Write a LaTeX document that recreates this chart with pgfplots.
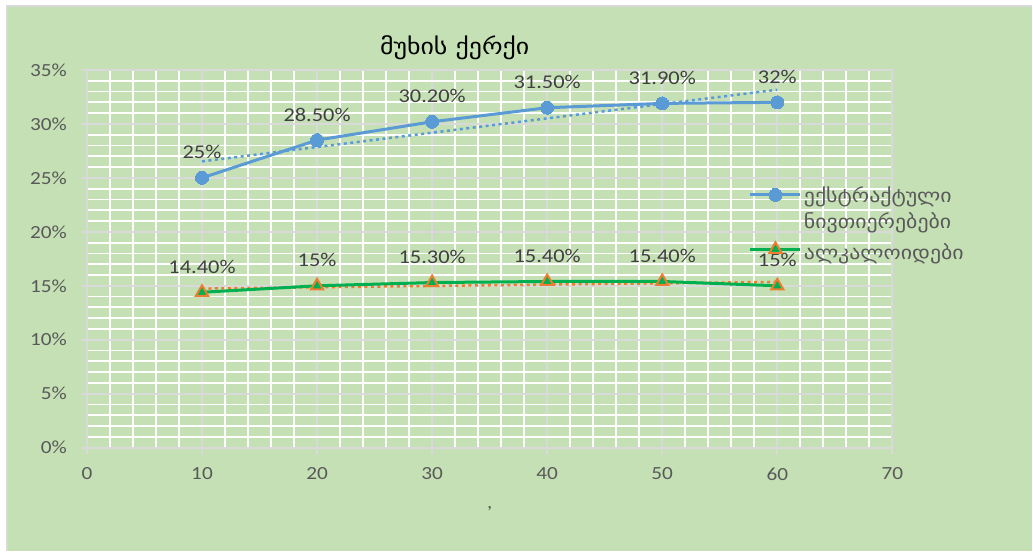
\documentclass[border=0pt]{standalone}
\usepackage{fontspec}
\usepackage{pgfplots}
\pgfplotsset{compat=1.18}
\newfontfamily\lab[FakeStretch=1.15]{Carlito}
\newfontfamily\geo[FakeStretch=1.15]{DejaVu Sans}
\definecolor{bg}{HTML}{C5E0B4}
\definecolor{majg}{HTML}{D9D9D9}
\definecolor{txt}{HTML}{595959}
\definecolor{dtxt}{HTML}{404040}
\definecolor{sblue}{HTML}{5B9BD5}
\definecolor{sgreen}{HTML}{00B050}
\definecolor{sorange}{HTML}{ED7D31}
\begin{document}
\begin{tikzpicture}[x=1pt,y=1pt]
\fill[white] (0,0) rectangle (1033,551);
\fill[bg] (8,0) rectangle (1033,544);
\draw[majg, line width=1.5pt] (7.25,0) -- (7.25,544.75) -- (1033,544.75);
\useasboundingbox (0,0) rectangle (1033,551);
\begin{axis}[
  at={(87pt,103pt)}, anchor=south west,
  scale only axis, width=806pt, height=378pt,
  xmin=0, xmax=70, ymin=0, ymax=35,
  xtick={0,10,20,30,40,50,60,70}, xticklabels={0,10,20,30,40,50,60,70},
  ytick={0,5,10,15,20,25,30,35}, yticklabels={0\%,5\%,10\%,15\%,20\%,25\%,30\%,35\%},
  minor x tick num=4, minor y tick num=4,
  grid=both,
  major grid style={majg, line width=2pt},
  minor grid style={white, line width=1.8pt},
  axis line style={majg, line width=2pt},
  tick align=outside, tick pos=left,
  major tick length=6pt, minor tick length=0pt,
  major tick style={majg, line width=2pt},
  tick label style={font=\lab\fontsize{18.5}{20}\selectfont, text=txt, inner sep=0pt},
  yticklabel style={xshift=-14pt},
  xticklabel style={yshift=-14pt},
  clip=false,
  title={მუხის ქერქი},
  title style={at={(0.4566,1.042)}, anchor=center, font=\geo\fontsize{22.5}{26}\selectfont, text=black},
  xlabel={{,}},
  xlabel style={at={(0.5,-0.161)}, anchor=center, font=\lab\fontsize{18}{20}\selectfont, text=txt},
  legend image code/.code={\draw[mark repeat=2,mark phase=2,#1] plot coordinates {(0pt,0pt)(25pt,0pt)(50pt,0pt)};},
  legend style={at={(0.818,0.703)}, anchor=north west, draw=none, fill=none,
    font=\geo\fontsize{19}{22}\selectfont, text=txt, cells={anchor=west}, row sep=4.5pt},
  every node near coord/.style={font=\lab\fontsize{19.5}{20}\selectfont, text=dtxt, anchor=base, yshift=19pt, inner sep=0pt},
]
\addplot[sblue, line width=2.5pt, dash pattern=on 3pt off 3.5pt, forget plot] coordinates {(10,26.53)(60,33.17)};
\addplot[sorange, line width=2.5pt, dash pattern=on 3pt off 3.5pt, forget plot] coordinates {(10,14.74)(60,15.36)};
\addplot[sblue, line width=3pt, mark=*, mark size=6.5pt, mark options={fill=sblue, draw=sblue, line width=0pt, solid},
  nodes near coords, point meta=explicit symbolic]
  coordinates {(10,25)[25\%] (20,28.5)[28.50\%] (30,30.2)[30.20\%] (40,31.5)[31.50\%] (50,31.9)[31.90\%] (60,32)[32\%]};
\addlegendentry{ექსტრაქტული}
\addlegendimage{empty legend}
\addlegendentry{ნივთიერებები}
\addplot[sgreen, line width=3pt, mark=triangle*, mark size=7pt, mark options={fill=sgreen, draw=sorange, line width=2pt, solid},
  nodes near coords, point meta=explicit symbolic]
  coordinates {(10,14.4)[14.40\%] (20,15)[15\%] (30,15.3)[15.30\%] (40,15.4)[15.40\%] (50,15.4)[15.40\%] (60,15)[15\%]};
\addlegendentry{\rule{0pt}{21pt}ალკალოიდები}
\end{axis}
\end{tikzpicture}
\end{document}
